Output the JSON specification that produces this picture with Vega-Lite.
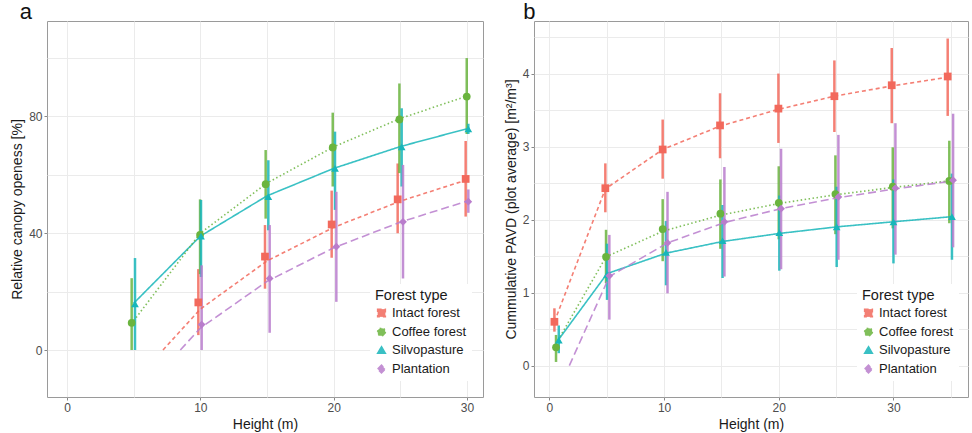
{
  "$schema": "https://vega.github.io/schema/vega-lite/v6.json",
  "padding": {"left": 10, "top": 0, "right": 0, "bottom": 0},
  "spacing": 19,
  "config": {
    "font": "Liberation Sans",
    "view": {"stroke": "#9a9a9a", "strokeWidth": 1},
    "axis": {
      "labelColor": "#4d4d4d", "labelFontSize": 12, "titleFontSize": 14, "titleFontWeight": "normal",
      "titleColor": "#1a1a1a", "tickColor": "#888888", "tickSize": 3, "labelPadding": 2,
      "domain": false, "gridColor": "#ebebeb", "gridWidth": 1
    },
    "legend": {
      "orient": "none", "fillColor": "white", "padding": 5,
      "titleFontSize": 14.5, "titleFontWeight": "normal", "titleColor": "#1a1a1a", "titlePadding": 3,
      "labelFontSize": 13, "labelColor": "#1a1a1a", "symbolSize": 60, "rowPadding": 4
    },
    "title": {"fontSize": 22, "fontWeight": "normal", "anchor": "start", "frame": "bounds", "color": "#111", "offset": -3}
  },
  "datasets": {
    "a_pts": [
      {"type": "Intact forest", "x": 9.85, "y": 16.3, "lo": 5.1, "hi": 27.7},
      {"type": "Intact forest", "x": 14.85, "y": 32, "lo": 21, "hi": 42.8},
      {"type": "Intact forest", "x": 19.85, "y": 43, "lo": 31.6, "hi": 54.6},
      {"type": "Intact forest", "x": 24.8, "y": 51.6, "lo": 40, "hi": 63.9},
      {"type": "Intact forest", "x": 29.9, "y": 58.6, "lo": 45.7, "hi": 71.6},
      {"type": "Coffee forest", "x": 4.85, "y": 9.3, "lo": 0, "hi": 24.6},
      {"type": "Coffee forest", "x": 9.98, "y": 39.4, "lo": 26, "hi": 51.6},
      {"type": "Coffee forest", "x": 14.9, "y": 56.8, "lo": 45, "hi": 68.5},
      {"type": "Coffee forest", "x": 19.93, "y": 69.4, "lo": 56, "hi": 81.3},
      {"type": "Coffee forest", "x": 24.93, "y": 79, "lo": 60.6, "hi": 91.3},
      {"type": "Coffee forest", "x": 29.98, "y": 86.8, "lo": 74, "hi": 100},
      {"type": "Silvopasture", "x": 5.1, "y": 15.8, "lo": 0, "hi": 31.5},
      {"type": "Silvopasture", "x": 10.05, "y": 39, "lo": 25, "hi": 51.4},
      {"type": "Silvopasture", "x": 15.1, "y": 52.5, "lo": 41, "hi": 65},
      {"type": "Silvopasture", "x": 20.1, "y": 62.2, "lo": 48, "hi": 74.8},
      {"type": "Silvopasture", "x": 25.1, "y": 69.6, "lo": 56, "hi": 82.8},
      {"type": "Silvopasture", "x": 30.1, "y": 75.7, "lo": 74, "hi": 77.5},
      {"type": "Plantation", "x": 10.1, "y": 8.7, "lo": 0, "hi": 29},
      {"type": "Plantation", "x": 15.2, "y": 24.5, "lo": 5.9, "hi": 42.8},
      {"type": "Plantation", "x": 20.2, "y": 35.4, "lo": 16.5, "hi": 54.2},
      {"type": "Plantation", "x": 25.2, "y": 43.9, "lo": 24.5, "hi": 63.4},
      {"type": "Plantation", "x": 30.1, "y": 50.8, "lo": 47, "hi": 55}
    ],
    "a_fit": [
      {"type": "Silvopasture", "x": 5, "y": 16},
      {"type": "Silvopasture", "x": 10, "y": 39},
      {"type": "Silvopasture", "x": 15, "y": 52.8},
      {"type": "Silvopasture", "x": 20, "y": 62.2},
      {"type": "Silvopasture", "x": 25, "y": 69.7},
      {"type": "Silvopasture", "x": 30, "y": 75.8},
      {"type": "Coffee forest", "x": 5, "y": 10},
      {"type": "Coffee forest", "x": 10, "y": 40},
      {"type": "Coffee forest", "x": 15, "y": 57.2},
      {"type": "Coffee forest", "x": 20, "y": 69.6},
      {"type": "Coffee forest", "x": 25, "y": 79.3},
      {"type": "Coffee forest", "x": 30, "y": 87},
      {"type": "Intact forest", "x": 7.2, "y": 0},
      {"type": "Intact forest", "x": 10, "y": 14},
      {"type": "Intact forest", "x": 15, "y": 30.5},
      {"type": "Intact forest", "x": 20, "y": 42},
      {"type": "Intact forest", "x": 25, "y": 51},
      {"type": "Intact forest", "x": 30, "y": 58.3},
      {"type": "Plantation", "x": 8.5, "y": 0},
      {"type": "Plantation", "x": 10, "y": 7.5},
      {"type": "Plantation", "x": 15, "y": 23.5},
      {"type": "Plantation", "x": 20, "y": 35},
      {"type": "Plantation", "x": 25, "y": 43.8},
      {"type": "Plantation", "x": 30, "y": 51}
    ],
    "b_pts": [
      {"type": "Intact forest", "x": 0.44, "y": 0.6, "lo": 0.465, "hi": 0.785},
      {"type": "Intact forest", "x": 4.88, "y": 2.43, "lo": 2.1, "hi": 2.77},
      {"type": "Intact forest", "x": 9.88, "y": 2.96, "lo": 2.56, "hi": 3.37},
      {"type": "Intact forest", "x": 14.88, "y": 3.29, "lo": 2.84, "hi": 3.73},
      {"type": "Intact forest", "x": 19.97, "y": 3.52, "lo": 3.05, "hi": 4.0},
      {"type": "Intact forest", "x": 24.85, "y": 3.69, "lo": 3.2, "hi": 4.18},
      {"type": "Intact forest", "x": 29.85, "y": 3.84, "lo": 3.32, "hi": 4.35},
      {"type": "Intact forest", "x": 34.73, "y": 3.96, "lo": 3.42, "hi": 4.48},
      {"type": "Coffee forest", "x": 0.58, "y": 0.25, "lo": 0.05, "hi": 0.42},
      {"type": "Coffee forest", "x": 4.94, "y": 1.49, "lo": 1.13, "hi": 1.86},
      {"type": "Coffee forest", "x": 9.88, "y": 1.87, "lo": 1.43, "hi": 2.28},
      {"type": "Coffee forest", "x": 14.91, "y": 2.08, "lo": 1.6, "hi": 2.55},
      {"type": "Coffee forest", "x": 20, "y": 2.23, "lo": 1.73, "hi": 2.73},
      {"type": "Coffee forest", "x": 24.94, "y": 2.35, "lo": 1.8, "hi": 2.88},
      {"type": "Coffee forest", "x": 29.94, "y": 2.45, "lo": 1.88, "hi": 2.99},
      {"type": "Coffee forest", "x": 34.87, "y": 2.53, "lo": 1.95, "hi": 3.08},
      {"type": "Silvopasture", "x": 0.82, "y": 0.35, "lo": 0.17, "hi": 0.55},
      {"type": "Silvopasture", "x": 5.03, "y": 1.25, "lo": 0.9, "hi": 1.67},
      {"type": "Silvopasture", "x": 10.17, "y": 1.55, "lo": 1.1, "hi": 1.98},
      {"type": "Silvopasture", "x": 15.1, "y": 1.71, "lo": 1.2, "hi": 2.2},
      {"type": "Silvopasture", "x": 20.05, "y": 1.82, "lo": 1.3, "hi": 2.33},
      {"type": "Silvopasture", "x": 25.05, "y": 1.9, "lo": 1.35, "hi": 2.45},
      {"type": "Silvopasture", "x": 30, "y": 1.97, "lo": 1.4, "hi": 2.55},
      {"type": "Silvopasture", "x": 35.1, "y": 2.04, "lo": 1.45, "hi": 2.63},
      {"type": "Plantation", "x": 5.23, "y": 1.23, "lo": 0.63, "hi": 1.79},
      {"type": "Plantation", "x": 10.3, "y": 1.68, "lo": 0.99, "hi": 2.38},
      {"type": "Plantation", "x": 15.26, "y": 1.97, "lo": 1.22, "hi": 2.72},
      {"type": "Plantation", "x": 20.2, "y": 2.15, "lo": 1.32, "hi": 2.97},
      {"type": "Plantation", "x": 25.2, "y": 2.31, "lo": 1.45, "hi": 3.16},
      {"type": "Plantation", "x": 30.17, "y": 2.43, "lo": 1.52, "hi": 3.32},
      {"type": "Plantation", "x": 35.2, "y": 2.54, "lo": 1.62, "hi": 3.45}
    ],
    "b_fit": [
      {"type": "Intact forest", "x": 0.44, "y": 0.6},
      {"type": "Intact forest", "x": 4.88, "y": 2.42},
      {"type": "Intact forest", "x": 9.88, "y": 2.96},
      {"type": "Intact forest", "x": 14.88, "y": 3.28},
      {"type": "Intact forest", "x": 19.97, "y": 3.51},
      {"type": "Intact forest", "x": 24.85, "y": 3.69},
      {"type": "Intact forest", "x": 29.85, "y": 3.83},
      {"type": "Intact forest", "x": 34.73, "y": 3.95},
      {"type": "Coffee forest", "x": 0.58, "y": 0.3},
      {"type": "Coffee forest", "x": 4.94, "y": 1.49},
      {"type": "Coffee forest", "x": 9.88, "y": 1.84},
      {"type": "Coffee forest", "x": 14.91, "y": 2.06},
      {"type": "Coffee forest", "x": 20, "y": 2.22},
      {"type": "Coffee forest", "x": 24.94, "y": 2.34},
      {"type": "Coffee forest", "x": 29.94, "y": 2.44},
      {"type": "Coffee forest", "x": 34.87, "y": 2.53},
      {"type": "Silvopasture", "x": 0.82, "y": 0.36},
      {"type": "Silvopasture", "x": 5.03, "y": 1.26},
      {"type": "Silvopasture", "x": 10.17, "y": 1.54},
      {"type": "Silvopasture", "x": 15.1, "y": 1.7},
      {"type": "Silvopasture", "x": 20.05, "y": 1.81},
      {"type": "Silvopasture", "x": 25.05, "y": 1.9},
      {"type": "Silvopasture", "x": 30, "y": 1.97},
      {"type": "Silvopasture", "x": 35.1, "y": 2.04},
      {"type": "Plantation", "x": 1.74, "y": 0},
      {"type": "Plantation", "x": 5.23, "y": 1.22},
      {"type": "Plantation", "x": 10.3, "y": 1.68},
      {"type": "Plantation", "x": 15.26, "y": 1.96},
      {"type": "Plantation", "x": 20.2, "y": 2.15},
      {"type": "Plantation", "x": 25.2, "y": 2.3},
      {"type": "Plantation", "x": 30.17, "y": 2.42},
      {"type": "Plantation", "x": 35.2, "y": 2.53}
    ]
  },
  "resolve": {
    "scale": {"color": "independent", "shape": "independent", "strokeDash": "independent"},
    "legend": {"color": "independent", "shape": "independent"}
  },
  "hconcat": [
    {
      "title": {"text": "a", "dx": 9},
      "width": 436,
      "height": 376,
      "layer": [
        {
          "data": {"name": "a_pts"},
          "mark": {"type": "rule", "strokeWidth": 2.5, "opacity": 0.85},
          "encoding": {
            "x": {"field": "x", "type": "quantitative", "scale": {"domain": [-1.5, 31.2], "nice": false, "zero": false},
                  "axis": {"title": "Height (m)", "values": [0, 5, 10, 15, 20, 25, 30], "labelExpr": "datum.value % 10 === 0 ? datum.label : ''",
                           "tickOpacity": {"condition": {"test": "datum.value % 10 !== 0", "value": 0}, "value": 1}}},
            "y": {"field": "lo", "type": "quantitative", "scale": {"domain": [-16.1, 112.7], "nice": false, "zero": false},
                  "axis": {"title": "Relative canopy openess [%]", "values": [0, 20, 40, 60, 80, 100], "labelExpr": "datum.value % 40 === 0 ? datum.label : ''",
                           "tickOpacity": {"condition": {"test": "datum.value % 40 !== 0", "value": 0}, "value": 1}}},
            "y2": {"field": "hi"},
            "color": {"field": "type", "type": "nominal", "title": "Forest type",
                      "scale": {"domain": ["Intact forest", "Coffee forest", "Silvopasture", "Plantation"], "range": ["#F2695C", "#6AB43E", "#17B6BA", "#B97DCC"]}}
          }
        },
        {
          "data": {"name": "a_fit"},
          "mark": {"type": "line", "strokeWidth": 1.6, "opacity": 0.85},
          "encoding": {
            "x": {"field": "x", "type": "quantitative"},
            "y": {"field": "y", "type": "quantitative"},
            "color": {"field": "type", "type": "nominal", "title": "Forest type"},
            "strokeDash": {"field": "type", "type": "nominal", "legend": null,
                           "scale": {"domain": ["Intact forest", "Coffee forest", "Silvopasture", "Plantation"], "range": [[4, 3], [1.5, 2.5], [1, 0], [8, 4]]}}
          }
        },
        {
          "data": {"name": "a_pts"},
          "mark": {"type": "point", "filled": true, "opacity": 1, "size": 60},
          "encoding": {
            "x": {"field": "x", "type": "quantitative"},
            "y": {"field": "y", "type": "quantitative"},
            "color": {"field": "type", "type": "nominal", "title": "Forest type", "legend": {"legendX": 323, "legendY": 263}},
            "shape": {"field": "type", "type": "nominal", "title": "Forest type",
                      "scale": {"domain": ["Intact forest", "Coffee forest", "Silvopasture", "Plantation"], "range": ["square", "circle", "triangle-up", "diamond"]},
                      "legend": {"legendX": 323, "legendY": 263}}
          }
        }
      ]
    },
    {
      "title": {"text": "b", "dx": 19},
      "width": 434,
      "height": 376,
      "layer": [
        {
          "data": {"name": "b_pts"},
          "mark": {"type": "rule", "strokeWidth": 2.5, "opacity": 0.85},
          "encoding": {
            "x": {"field": "x", "type": "quantitative", "scale": {"domain": [-1.34, 36.5], "nice": false, "zero": false},
                  "axis": {"title": "Height (m)", "values": [0, 5, 10, 15, 20, 25, 30, 35], "labelExpr": "datum.value % 10 === 0 ? datum.label : ''",
                           "tickOpacity": {"condition": {"test": "datum.value % 10 !== 0", "value": 0}, "value": 1}}},
            "y": {"field": "lo", "type": "quantitative", "scale": {"domain": [-0.43, 4.72], "nice": false, "zero": false},
                  "axis": {"title": "Cummulative PAVD (plot average) [m²/m³]", "values": [0, 0.5, 1, 1.5, 2, 2.5, 3, 3.5, 4, 4.5], "labelExpr": "datum.value % 1 === 0 ? format(datum.value, 'd') : ''",
                           "tickOpacity": {"condition": {"test": "datum.value % 1 !== 0", "value": 0}, "value": 1}}},
            "y2": {"field": "hi"},
            "color": {"field": "type", "type": "nominal", "title": "Forest type",
                      "scale": {"domain": ["Intact forest", "Coffee forest", "Silvopasture", "Plantation"], "range": ["#F2695C", "#6AB43E", "#17B6BA", "#B97DCC"]}}
          }
        },
        {
          "data": {"name": "b_fit"},
          "mark": {"type": "line", "strokeWidth": 1.6, "opacity": 0.85},
          "encoding": {
            "x": {"field": "x", "type": "quantitative"},
            "y": {"field": "y", "type": "quantitative"},
            "color": {"field": "type", "type": "nominal", "title": "Forest type"},
            "strokeDash": {"field": "type", "type": "nominal", "legend": null,
                           "scale": {"domain": ["Intact forest", "Coffee forest", "Silvopasture", "Plantation"], "range": [[4, 3], [1.5, 2.5], [1, 0], [8, 4]]}}
          }
        },
        {
          "data": {"name": "b_pts"},
          "mark": {"type": "point", "filled": true, "opacity": 1, "size": 60},
          "encoding": {
            "x": {"field": "x", "type": "quantitative"},
            "y": {"field": "y", "type": "quantitative"},
            "color": {"field": "type", "type": "nominal", "title": "Forest type", "legend": {"legendX": 323, "legendY": 263}},
            "shape": {"field": "type", "type": "nominal", "title": "Forest type",
                      "scale": {"domain": ["Intact forest", "Coffee forest", "Silvopasture", "Plantation"], "range": ["square", "circle", "triangle-up", "diamond"]},
                      "legend": {"legendX": 323, "legendY": 263}}
          }
        }
      ]
    }
  ]
}
